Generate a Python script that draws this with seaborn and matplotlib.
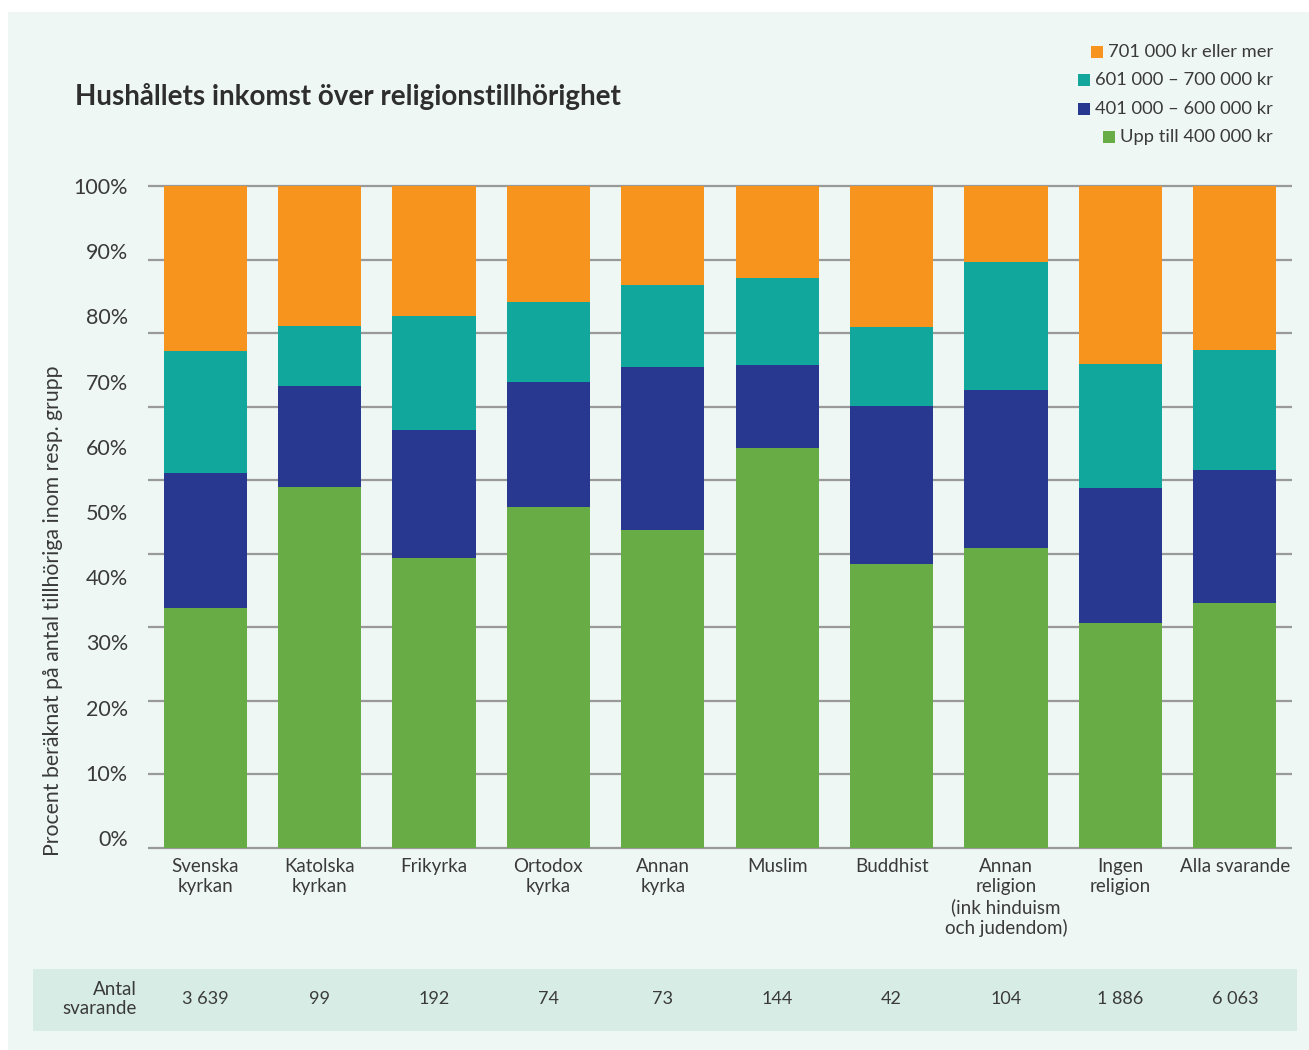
import numpy as np
import pandas as pd
import matplotlib
matplotlib.use("Agg")
import matplotlib.pyplot as plt
import seaborn as sns
from matplotlib import transforms
from matplotlib.patches import Rectangle

# ---------------- data ----------------
categories = ["Svenska\nkyrkan", "Katolska\nkyrkan", "Frikyrka", "Ortodox\nkyrka",
              "Annan\nkyrka", "Muslim", "Buddhist",
              "Annan\nreligion\n(ink hinduism\noch judendom)", "Ingen\nreligion",
              "Alla svarande"]
upp_till_400 = [36.3, 54.5, 43.8, 51.5, 48.0, 60.4, 42.9, 45.3, 34.0, 37.0]
k401_600 = [20.4, 15.3, 19.3, 18.9, 24.7, 12.6, 23.9, 23.9, 20.4, 20.1]
k601_700 = [18.4, 9.0, 17.3, 12.1, 12.4, 13.1, 11.9, 19.3, 18.7, 18.1]
k701_plus = [24.9, 21.2, 19.6, 17.5, 14.9, 13.9, 21.3, 11.5, 26.9, 24.8]
series_labels = ["Upp till 400 000 kr", "401 000 – 600 000 kr",
                 "601 000 – 700 000 kr", "701 000 kr eller mer"]
counts = ["3 639", "99", "192", "74", "73", "144", "42", "104", "1 886", "6 063"]
ytick_labels = ["0%", "10%", "20%", "30%", "40%", "50%", "60%", "70%", "80%", "90%", "100%"]
title = "Hushållets inkomst över religionstillhörighet"
ylabel = "Procent beräknat på antal tillhöriga inom resp. grupp"
count_label = "Antal\nsvarande"

# ---------------- style ----------------
colors = ["#67AC45", "#283891", "#12A79D", "#F7941D"]
BG = "#EEF7F3"
BAND = "#D7ECE5"
TXT = "#3a3a3a"

sns.set_theme(style="white")
plt.rcParams["font.family"] = ["Lato", "DejaVu Sans"]

W, H = 1309, 1050
fig = plt.figure(figsize=(W / 100, H / 100), dpi=100, facecolor=BG)

# white margins top/left
fig.patches.append(Rectangle((0, 1 - 12 / H), 1, 12 / H, transform=fig.transFigure,
                             facecolor="white", edgecolor="none", zorder=-2))
fig.patches.append(Rectangle((0, 0), 8 / W, 1, transform=fig.transFigure,
                             facecolor="white", edgecolor="none", zorder=-2))
# counts band
fig.patches.append(Rectangle((33 / W, (H - 1031) / H), 1264 / W, 62 / H,
                             transform=fig.transFigure, facecolor=BAND,
                             edgecolor="none", zorder=-2))

ax_top, ax_bot = 184, 850
ax = fig.add_axes([148 / W, 1 - ax_bot / H, 1144 / W, (ax_bot - ax_top) / H])
ax.set_facecolor(BG)

layers = [upp_till_400, k401_600, k601_700, k701_plus]
cum = np.cumsum(np.array(layers), axis=0)
df = pd.DataFrame({"kategori": categories})
for i in range(4):
    df[f"c{i}"] = cum[i]

for i in reversed(range(4)):
    sns.barplot(data=df, x="kategori", y=f"c{i}", color=colors[i], saturation=1,
                width=0.726, errorbar=None, ax=ax, zorder=3, linewidth=0)

ax.set_xlim(-0.5, len(categories) - 0.5)
ax.set_ylim(-0.3, 100.3)
ax.set_xlabel("")
ax.set_ylabel("")
for s in ax.spines.values():
    s.set_visible(False)

ax.set_axisbelow(True)
ax.yaxis.remove_overlapping_locs = False
ax.set_yticks(np.linspace(0, 100, 10))
ax.yaxis.grid(True, color="#999999", lw=1.6)
ax.xaxis.grid(False)
ax.tick_params(axis="y", which="major", length=0, labelleft=False)
ax.set_yticks(np.linspace(1.5, 100, len(ytick_labels)), minor=True)
ax.set_yticklabels(ytick_labels, minor=True)
ax.tick_params(axis="y", which="minor", length=0, pad=14.5, labelsize=15.5,
               labelcolor=TXT)
ax.tick_params(axis="x", length=0, pad=6, labelsize=13.5, labelcolor=TXT)

# title and y label
fig.text(75 / W, 1 - 97 / H, title, ha="left", va="center", fontsize=20,
         fontweight="bold", color="#2e2e2e")
fig.text(53 / W, 1 - 611 / H, ylabel, rotation=90, ha="center", va="center",
         fontsize=15.3, color=TXT)

# counts row
trans = transforms.blended_transform_factory(ax.transData, fig.transFigure)
for i, c in enumerate(counts):
    ax.text(i, (H - 999) / H, c, transform=trans, ha="center", va="center",
            fontsize=13, color=TXT, clip_on=False)
fig.text(137 / W, (H - 999) / H, count_label, ha="right", va="center",
         fontsize=13.5, color=TXT, linespacing=1.1)

# legend (right-aligned, markers next to text)
fig.canvas.draw()
renderer = fig.canvas.get_renderer()
rows_y = [137, 109, 80, 52]
for i in range(4):
    t = fig.text(1273 / W, 1 - rows_y[i] / H, series_labels[i], ha="right",
                 va="center", fontsize=13.2, color=TXT)
    bb = t.get_window_extent(renderer)
    sq = 12
    x0 = bb.x0 - 5 - sq
    fig.patches.append(Rectangle((x0 / W, (H - rows_y[i] - sq / 2) / H), sq / W, sq / H,
                                 transform=fig.transFigure, facecolor=colors[i],
                                 edgecolor="none", zorder=2))

fig.savefig("out.png", dpi=100, facecolor=BG)
